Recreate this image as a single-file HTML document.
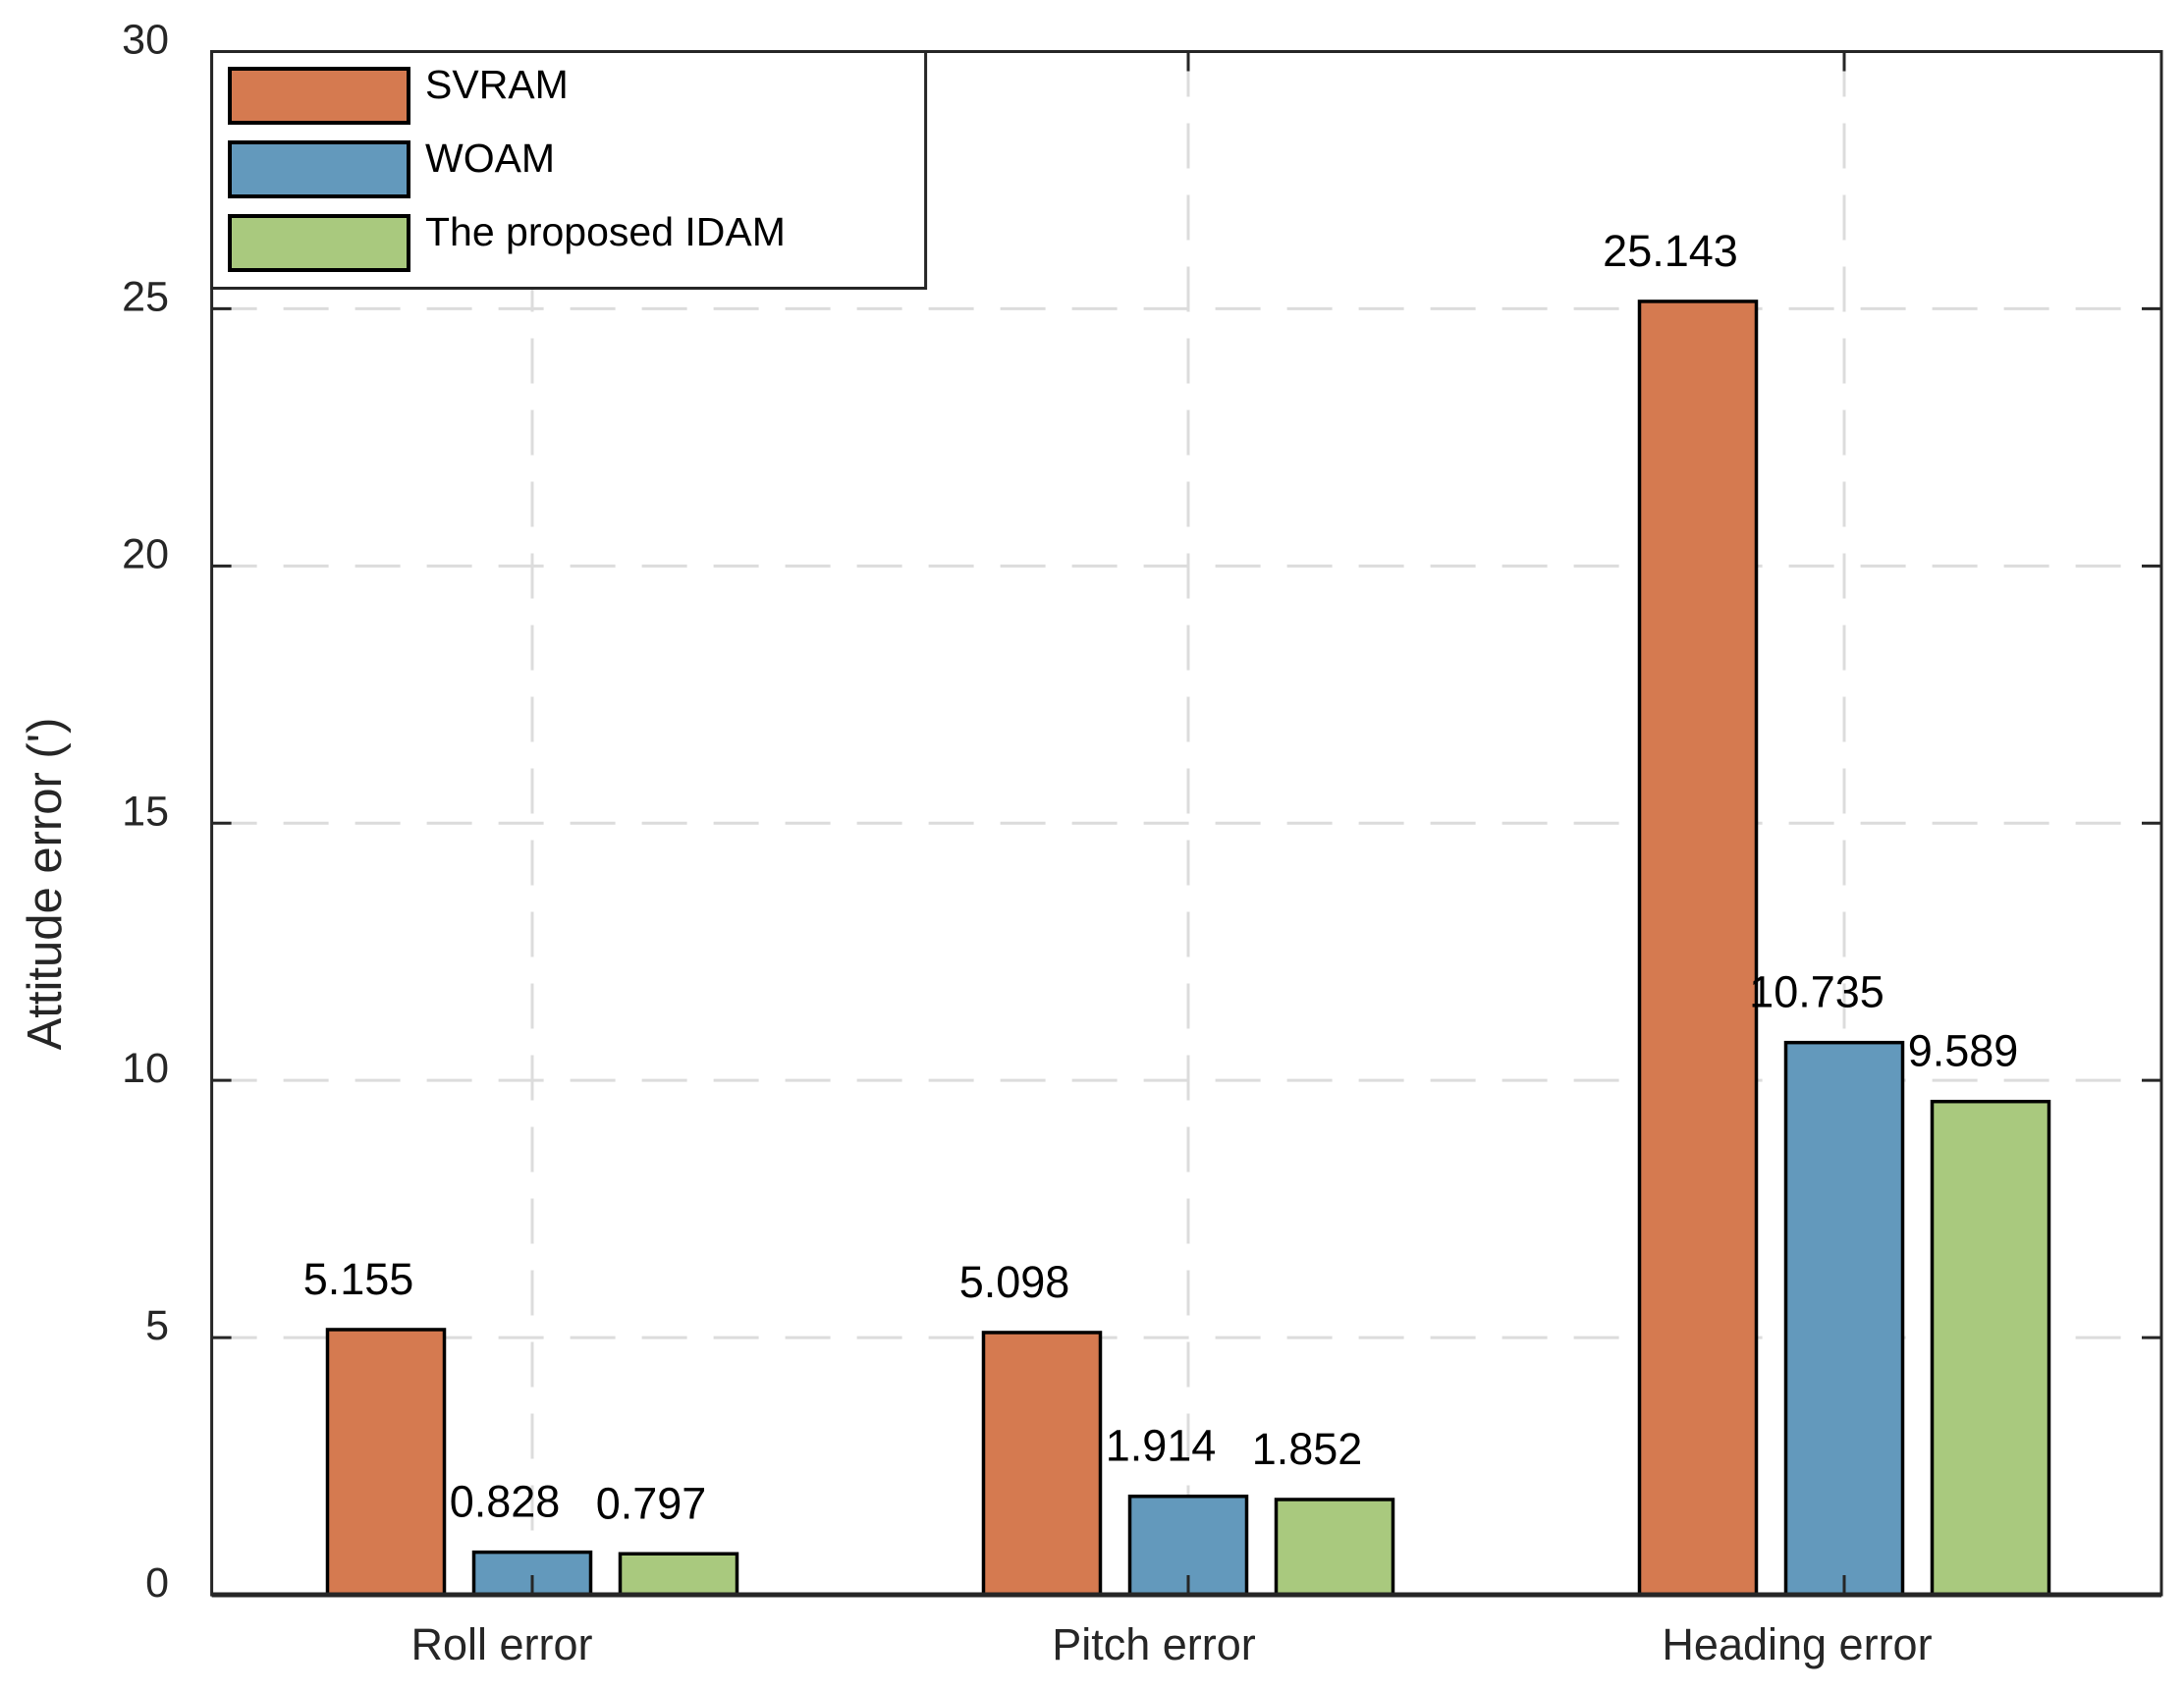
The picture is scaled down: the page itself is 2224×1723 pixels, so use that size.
<!DOCTYPE html>
<html><head><meta charset="utf-8"><style>
html,body{margin:0;padding:0;background:#fff}
svg{display:block;font-family:"Liberation Sans",Arial,sans-serif}
</style></head><body>
<svg id="chart" width="2224" height="1723" viewBox="0 0 2224 1723">
<rect width="2224" height="1723" fill="#fff"/>
<g id="grid"></g>
<g id="bars"></g>
<g id="axes"></g>
<g id="legend"></g>
</svg>
<script>
const categories = ["Roll error", "Pitch error", "Heading error"];
const seriesNames = ["SVRAM", "WOAM", "The proposed IDAM"];
const svramValues = [5.155, 5.098, 25.143];
const woamValues = [0.828, 1.914, 10.735];
const idamValues = [0.797, 1.852, 9.589];
const valueLabels = [["5.155","5.098","25.143"],["0.828","1.914","10.735"],["0.797","1.852","9.589"]];
const yTicks = [0, 5, 10, 15, 20, 25, 30];

const NS = "http://www.w3.org/2000/svg";
const L = 215.6, R = 2201, T = 52.5, B = 1624;
const yMin = 0, yMax = 30;
function yScale(v){ return B - (v - yMin) / (yMax - yMin) * (B - T); }
const catCenters0 = [542, 1210, 1878];
function xScale(i){ return catCenters0[i]; }
const colors = ["#D57A50", "#6399BC", "#A9C97E"];
const series = [svramValues, woamValues, idamValues];
const barW = 119, offs = [-149, 0, 149];
const xLabelOffs = [-31, -35, -48];

function mk(tag, attrs, parent){
  const e = document.createElementNS(NS, tag);
  for (const k in attrs) e.setAttribute(k, attrs[k]);
  parent.appendChild(e); return e;
}
const grid = document.getElementById('grid');
const bars = document.getElementById('bars');
const axes = document.getElementById('axes');
const legend = document.getElementById('legend');

yTicks.forEach(t => {
  if (t === yMin || t === yMax) return;
  const y = yScale(t);
  const g = mk('line', {x1:L, x2:R, y1:y, y2:y, stroke:'#dcdcdc', 'stroke-width':3, 'stroke-dasharray':'46 27'}, grid);
  
  
});
categories.forEach((c, i) => {
  const x = xScale(i);
  const g = mk('line', {x1:x, x2:x, y1:T, y2:B, stroke:'#dcdcdc', 'stroke-width':3, 'stroke-dasharray':'46 27'}, grid);
  
  
});

series.forEach((vals, s) => {
  vals.forEach((v, i) => {
    const cx = xScale(i) + offs[s];
    const y = yScale(v);
    const r = mk('rect', {x:cx - barW/2, y:y, width:barW, height:B - y, fill:colors[s], stroke:'#000', 'stroke-width':3.5}, bars);
    
    
    const t = mk('text', {x:cx - 28, y:y - 36, 'font-size':45, 'text-anchor':'middle', fill:'#000'}, bars);
    t.textContent = valueLabels[s][i];
    
    
  });
});

const box = mk('rect', {x:L, y:T, width:R-L, height:B-T, fill:'none', stroke:'#262626', 'stroke-width':3}, axes);


const bl = mk('line', {x1:L, x2:R, y1:B, y2:B, stroke:'#262626', 'stroke-width':5}, axes);


yTicks.forEach(t => {
  const y = yScale(t);
  const a = mk('line', {x1:L, x2:L+20, y1:y, y2:y, stroke:'#262626', 'stroke-width':3}, axes);
  
  
  const b = mk('line', {x1:R-20, x2:R, y1:y, y2:y, stroke:'#262626', 'stroke-width':3}, axes);
  
  
  const lab = mk('text', {x:172, y:y + 2, 'font-size':43, 'text-anchor':'end', fill:'#262626'}, axes);
  lab.textContent = t;
  
  
});
categories.forEach((c, i) => {
  const x = xScale(i);
  const a = mk('line', {x1:x, x2:x, y1:B-20, y2:B, stroke:'#262626', 'stroke-width':3}, axes);
  
  
  const b = mk('line', {x1:x, x2:x, y1:T, y2:T+20, stroke:'#262626', 'stroke-width':3}, axes);
  
  
  const lab = mk('text', {x:x + xLabelOffs[i], y:1690, 'font-size':45, 'text-anchor':'middle', fill:'#262626'}, axes);
  lab.textContent = c;
  
  
});
const yt = mk('text', {x:0, y:0, 'font-size':49, 'text-anchor':'middle', fill:'#262626', transform:'translate(62,900) rotate(-90)'}, axes);
yt.textContent = "Attitude error (')";



const lb = mk('rect', {x:215.6, y:52.5, width:727, height:241, fill:'#fff', stroke:'#262626', 'stroke-width':3}, legend);


const patchY = [70, 145, 220];
seriesNames.forEach((n, s) => {
  const p = mk('rect', {x:234, y:patchY[s], width:182, height:55, fill:colors[s], stroke:'#000', 'stroke-width':4}, legend);
  
  
  const t = mk('text', {x:433, y:patchY[s] + 30, 'font-size':41, fill:'#000'}, legend);
  t.textContent = n;
  
  
});
</script>
</body></html>
